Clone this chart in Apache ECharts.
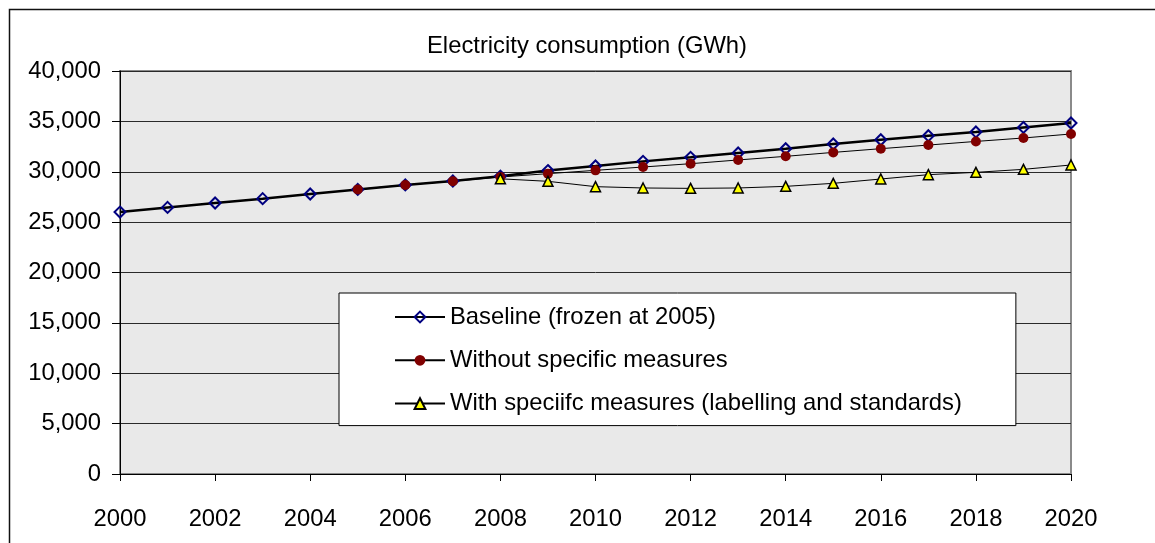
<!DOCTYPE html>
<html>
<head>
<meta charset="utf-8">
<script src="https://cdn.jsdelivr.net/npm/echarts@6/dist/echarts.min.js"></script>
<style>
  html, body { margin: 0; padding: 0; background: #fff; }
  #chart { width: 1155px; height: 543px; }
</style>
</head>
<body>
<div id="chart"></div>
<script>
// electricity consumption, GWh
const years = ['2000', '2001', '2002', '2003', '2004', '2005', '2006', '2007', '2008', '2009', '2010',
  '2011', '2012', '2013', '2014', '2015', '2016', '2017', '2018', '2019', '2020']
const baseline = [26000, 26460, 26900, 27330, 27790, 28250, 28690, 29080, 29560, 30120, 30570,
  31030, 31430, 31860, 32290, 32760, 33180, 33580, 33950, 34400, 34840]
const withoutMeasures = [null, null, null, null, null, 28250, 28690, 29060, 29480, 29810, 30140,
  30470, 30800, 31170, 31530, 31920, 32290, 32650, 33010, 33350, 33750]
const withMeasures = [null, null, null, null, null, null, null, null, 29300, 29050, 28520,
  28390, 28350, 28390, 28550, 28850, 29280, 29710, 29940, 30240, 30670]
const seriesNames = ['Baseline (frozen at 2005)', 'Without specific measures',
  'With speciifc measures (labelling and standards)']

const font = '"Liberation Sans", Arial, sans-serif'
const fontSize = 23.8
const chart = echarts.init(document.getElementById('chart'))

const options = {
  animation: false,
  textStyle: { fontFamily: font, color: '#000' },
  title: {
    text: 'Electricity consumption (GWh)',
    left: 422,
    top: 29,
    textStyle: { fontFamily: font, fontSize: fontSize, fontWeight: 'normal', color: '#000' }
  },
  // outer chart frame (runs off the right and bottom of the picture)
  graphic: [{
    type: 'rect',
    left: 7,
    top: 7,
    shape: { width: 1300, height: 700 },
    style: { fill: 'none', stroke: '#111', lineWidth: 1.5 },
    silent: true
  }],
  grid: {
    left: 120,
    right: 84,
    top: 71,
    bottom: 69,
    show: true,
    backgroundColor: '#e9e9e9',
    borderColor: '#8a8a8a',
    borderWidth: 2
  },
  legend: {
    orient: 'vertical',
    left: 339,
    top: 293,
    padding: [12, 54, 10, 55],
    itemWidth: 50,
    itemHeight: 13.5,
    itemGap: 19.3,
    backgroundColor: '#fff',
    borderColor: '#000',
    borderWidth: 1,
    textStyle: { fontFamily: font, fontSize: fontSize, lineHeight: 24, color: '#000' },
    data: seriesNames
  },
  xAxis: {
    type: 'category',
    data: years,
    boundaryGap: false,
    axisLine: { lineStyle: { color: '#000', width: 1 } },
    axisTick: { interval: 1, length: 7, lineStyle: { color: '#000' } },
    axisLabel: { interval: 1, margin: 33, fontSize: fontSize, color: '#000', fontFamily: font },
    splitLine: { show: false }
  },
  yAxis: {
    type: 'value',
    min: 0,
    max: 40000,
    interval: 5000,
    axisLine: { show: true, lineStyle: { color: '#000', width: 1 } },
    axisTick: { show: true, length: 8, lineStyle: { color: '#000' } },
    axisLabel: { margin: 19, fontSize: fontSize, color: '#000', fontFamily: font },
    splitLine: { lineStyle: { color: '#2a2a2a', width: 1 } }
  },
  series: [
    {
      name: seriesNames[0],
      type: 'line',
      data: baseline,
      symbol: 'diamond',
      symbolSize: 11,
      lineStyle: { color: '#000', width: 2.5 },
      itemStyle: { color: 'rgba(0,0,0,0)', borderColor: '#000080', borderWidth: 2 }
    },
    {
      name: seriesNames[1],
      type: 'line',
      data: withoutMeasures,
      symbol: 'circle',
      symbolSize: 10,
      lineStyle: { color: '#000', width: 1 },
      itemStyle: { color: '#800000', borderColor: '#800000', borderWidth: 0 }
    },
    {
      name: seriesNames[2],
      type: 'line',
      data: withMeasures,
      symbol: 'triangle',
      symbolSize: 10,
      lineStyle: { color: '#000', width: 1 },
      itemStyle: { color: '#ffff00', borderColor: '#000', borderWidth: 1.5 }
    }
  ]
}

chart.setOption(options)
</script>
</body>
</html>
